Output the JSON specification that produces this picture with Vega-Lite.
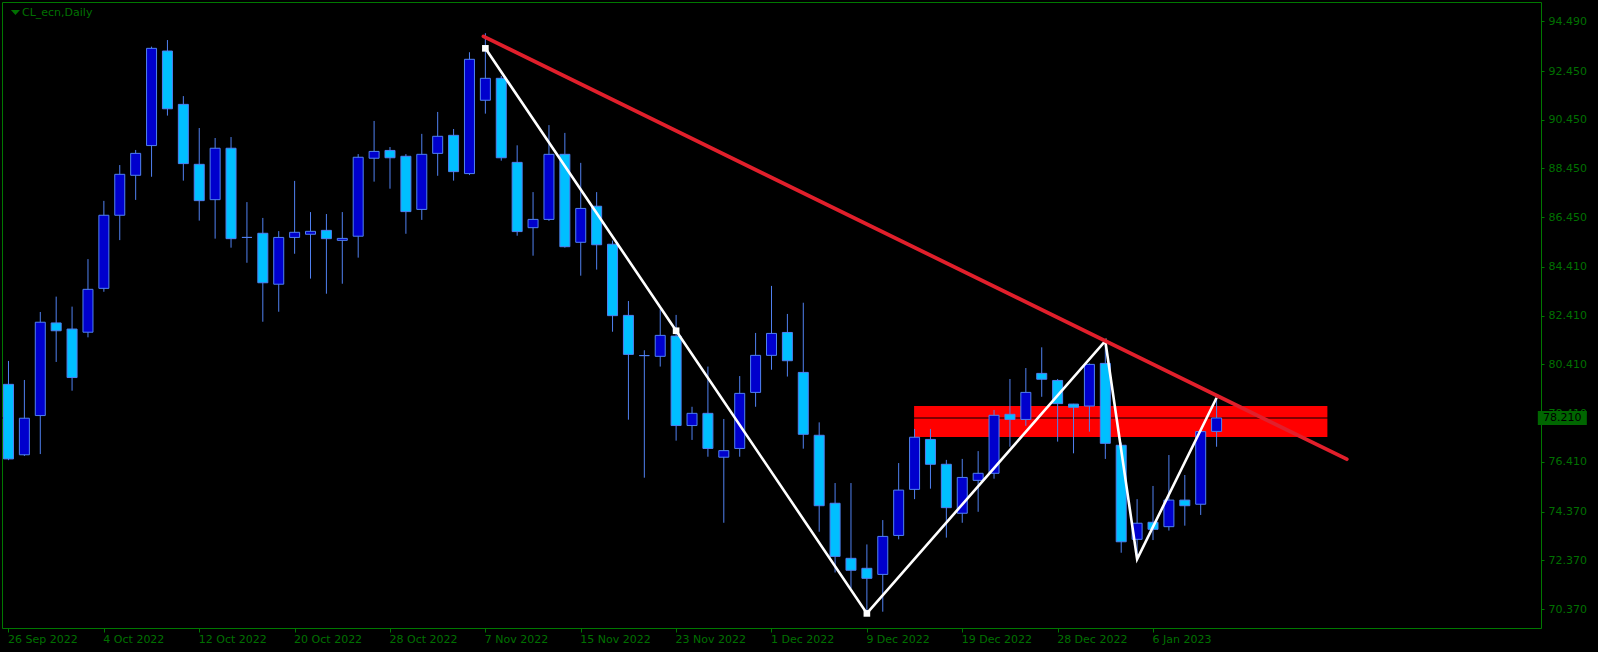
{
  "$schema": "https://vega.github.io/schema/vega-lite/v6.json",
  "width": 1539,
  "height": 626,
  "autosize": {"type": "none"},
  "padding": {"left": 2, "top": 2, "right": 57, "bottom": 24},
  "background": "#000000",
  "title": {"text": "CL_ecn,Daily", "anchor": "start", "frame": "group", "orient": "top", "offset": -16, "dx": 20, "color": "#007000", "font": "DejaVu Sans", "fontSize": 11, "fontWeight": "normal"},
  "datasets": {
    "candles": [
      {"i":0,"date":"2022-09-26","o":79.59,"h":80.55,"l":76.48,"c":76.53},
      {"i":1,"date":"2022-09-27","o":76.70,"h":79.77,"l":76.65,"c":78.20},
      {"i":2,"date":"2022-09-28","o":78.31,"h":82.56,"l":76.73,"c":82.14},
      {"i":3,"date":"2022-09-29","o":82.11,"h":83.19,"l":80.51,"c":81.79},
      {"i":4,"date":"2022-09-30","o":81.86,"h":82.78,"l":79.33,"c":79.87},
      {"i":5,"date":"2022-10-03","o":81.73,"h":84.73,"l":81.52,"c":83.49},
      {"i":6,"date":"2022-10-04","o":83.53,"h":87.12,"l":83.39,"c":86.53},
      {"i":7,"date":"2022-10-05","o":86.53,"h":88.59,"l":85.51,"c":88.21},
      {"i":8,"date":"2022-10-06","o":88.17,"h":89.21,"l":87.16,"c":89.07},
      {"i":9,"date":"2022-10-07","o":89.39,"h":93.45,"l":88.11,"c":93.38},
      {"i":10,"date":"2022-10-10","o":93.27,"h":93.72,"l":90.62,"c":90.90},
      {"i":11,"date":"2022-10-11","o":91.08,"h":91.42,"l":87.95,"c":88.65},
      {"i":12,"date":"2022-10-12","o":88.62,"h":90.11,"l":86.31,"c":87.13},
      {"i":13,"date":"2022-10-13","o":87.17,"h":89.70,"l":85.57,"c":89.28},
      {"i":14,"date":"2022-10-14","o":89.28,"h":89.74,"l":85.20,"c":85.57},
      {"i":15,"date":"2022-10-17","o":85.62,"h":87.07,"l":84.58,"c":85.62},
      {"i":16,"date":"2022-10-18","o":85.79,"h":86.42,"l":82.16,"c":83.76},
      {"i":17,"date":"2022-10-19","o":83.70,"h":85.88,"l":82.57,"c":85.62},
      {"i":18,"date":"2022-10-20","o":85.62,"h":87.94,"l":84.95,"c":85.83},
      {"i":19,"date":"2022-10-21","o":85.75,"h":86.66,"l":83.93,"c":85.87},
      {"i":20,"date":"2022-10-24","o":85.91,"h":86.58,"l":83.31,"c":85.57},
      {"i":21,"date":"2022-10-25","o":85.50,"h":86.66,"l":83.72,"c":85.58},
      {"i":22,"date":"2022-10-26","o":85.67,"h":89.04,"l":84.79,"c":88.91},
      {"i":23,"date":"2022-10-27","o":88.87,"h":90.40,"l":87.91,"c":89.15},
      {"i":24,"date":"2022-10-28","o":89.19,"h":89.33,"l":87.62,"c":88.89},
      {"i":25,"date":"2022-10-31","o":88.95,"h":89.04,"l":85.77,"c":86.68},
      {"i":26,"date":"2022-11-01","o":86.77,"h":89.87,"l":86.34,"c":89.03},
      {"i":27,"date":"2022-11-02","o":89.07,"h":90.77,"l":88.15,"c":89.77},
      {"i":28,"date":"2022-11-03","o":89.81,"h":90.07,"l":87.95,"c":88.32},
      {"i":29,"date":"2022-11-04","o":88.24,"h":93.22,"l":88.18,"c":92.93},
      {"i":30,"date":"2022-11-07","o":91.25,"h":94.00,"l":90.70,"c":92.15},
      {"i":31,"date":"2022-11-08","o":92.15,"h":92.25,"l":88.77,"c":88.89},
      {"i":32,"date":"2022-11-09","o":88.70,"h":89.40,"l":85.69,"c":85.86},
      {"i":33,"date":"2022-11-10","o":86.02,"h":87.48,"l":84.87,"c":86.36},
      {"i":34,"date":"2022-11-11","o":86.36,"h":90.23,"l":86.30,"c":89.03},
      {"i":35,"date":"2022-11-14","o":89.03,"h":89.91,"l":85.20,"c":85.24},
      {"i":36,"date":"2022-11-15","o":85.42,"h":88.68,"l":84.05,"c":86.81},
      {"i":37,"date":"2022-11-16","o":86.90,"h":87.48,"l":84.30,"c":85.32},
      {"i":38,"date":"2022-11-17","o":85.34,"h":85.49,"l":81.75,"c":82.41},
      {"i":39,"date":"2022-11-18","o":82.42,"h":83.01,"l":78.14,"c":80.82},
      {"i":40,"date":"2022-11-21","o":80.77,"h":80.99,"l":75.76,"c":80.77},
      {"i":41,"date":"2022-11-22","o":80.74,"h":82.67,"l":80.32,"c":81.60},
      {"i":42,"date":"2022-11-23","o":81.57,"h":82.44,"l":77.28,"c":77.90},
      {"i":43,"date":"2022-11-24","o":77.90,"h":78.67,"l":77.31,"c":78.40},
      {"i":44,"date":"2022-11-25","o":78.40,"h":80.32,"l":76.62,"c":76.96},
      {"i":45,"date":"2022-11-28","o":76.60,"h":78.17,"l":73.91,"c":76.87},
      {"i":46,"date":"2022-11-29","o":76.96,"h":79.93,"l":76.62,"c":79.22},
      {"i":47,"date":"2022-11-30","o":79.26,"h":81.70,"l":78.67,"c":80.78},
      {"i":48,"date":"2022-12-01","o":80.78,"h":83.63,"l":80.19,"c":81.68},
      {"i":49,"date":"2022-12-02","o":81.72,"h":82.48,"l":79.91,"c":80.56},
      {"i":50,"date":"2022-12-05","o":80.08,"h":82.94,"l":76.95,"c":77.54},
      {"i":51,"date":"2022-12-06","o":77.50,"h":78.03,"l":73.54,"c":74.61},
      {"i":52,"date":"2022-12-07","o":74.71,"h":75.54,"l":71.87,"c":72.53},
      {"i":53,"date":"2022-12-08","o":72.45,"h":75.54,"l":71.22,"c":71.96},
      {"i":54,"date":"2022-12-09","o":72.04,"h":73.02,"l":70.22,"c":71.63},
      {"i":55,"date":"2022-12-12","o":71.79,"h":74.02,"l":70.26,"c":73.35},
      {"i":56,"date":"2022-12-13","o":73.39,"h":76.36,"l":73.23,"c":75.25},
      {"i":57,"date":"2022-12-14","o":75.28,"h":77.76,"l":74.88,"c":77.42},
      {"i":58,"date":"2022-12-15","o":77.33,"h":77.76,"l":75.31,"c":76.31},
      {"i":59,"date":"2022-12-16","o":76.31,"h":76.49,"l":73.30,"c":74.53},
      {"i":60,"date":"2022-12-19","o":74.30,"h":76.53,"l":73.91,"c":75.77},
      {"i":61,"date":"2022-12-20","o":75.65,"h":76.85,"l":74.36,"c":75.94},
      {"i":62,"date":"2022-12-21","o":75.94,"h":78.54,"l":75.72,"c":78.32},
      {"i":63,"date":"2022-12-22","o":78.36,"h":79.81,"l":77.03,"c":78.15},
      {"i":64,"date":"2022-12-23","o":78.15,"h":80.26,"l":77.89,"c":79.26},
      {"i":65,"date":"2022-12-27","o":80.04,"h":81.11,"l":79.08,"c":79.80},
      {"i":66,"date":"2022-12-28","o":79.75,"h":79.81,"l":77.24,"c":78.80},
      {"i":67,"date":"2022-12-29","o":78.78,"h":78.79,"l":76.76,"c":78.65},
      {"i":68,"date":"2022-12-30","o":78.70,"h":80.45,"l":77.65,"c":80.41},
      {"i":69,"date":"2023-01-03","o":80.45,"h":81.37,"l":76.53,"c":77.17},
      {"i":70,"date":"2023-01-04","o":77.09,"h":77.20,"l":72.68,"c":73.13},
      {"i":71,"date":"2023-01-05","o":73.23,"h":74.88,"l":72.42,"c":73.89},
      {"i":72,"date":"2023-01-06","o":73.93,"h":75.42,"l":73.20,"c":73.64},
      {"i":73,"date":"2023-01-09","o":73.75,"h":76.69,"l":73.59,"c":74.84},
      {"i":74,"date":"2023-01-10","o":74.84,"h":75.87,"l":73.79,"c":74.61},
      {"i":75,"date":"2023-01-11","o":74.67,"h":77.65,"l":74.23,"c":77.65},
      {"i":76,"date":"2023-01-12","o":77.66,"h":79.04,"l":77.03,"c":78.21}
    ],
    "zigzag": [
      {"i":30,"price":93.38},
      {"i":42,"price":81.79},
      {"i":54,"price":70.19},
      {"i":69,"price":81.37},
      {"i":71,"price":72.42},
      {"i":76,"price":79.04}
    ],
    "trend": [
      {"i":29.88,"price":93.87},
      {"i":84.19,"price":76.52}
    ],
    "zone": [
      {"from":56.97,"to":82.97,"top":78.70,"bottom":77.43}
    ],
    "bid": [
      {"bid":78.21}
    ]
  },
  "layer": [
    {
      "data": {"name": "zone"},
      "mark": {"type": "rect", "color": "#FF0000", "clip": true},
      "encoding": {
        "x": {"field": "from", "type": "quantitative",
          "scale": {"domain": [-0.09375, 96.09375], "nice": false, "zero": false},
          "axis": {
            "orient": "bottom", "title": null, "grid": false, "domain": false,
            "values": [0,6,12,18,24,30,36,42,48,54,60,66,72],
            "labelExpr": "['26 Sep 2022','4 Oct 2022','12 Oct 2022','20 Oct 2022','28 Oct 2022','7 Nov 2022','15 Nov 2022','23 Nov 2022','1 Dec 2022','9 Dec 2022','19 Dec 2022','28 Dec 2022','6 Jan 2023'][round(datum.value/6)]",
            "tickSize": 4, "tickColor": "#007800", "tickWidth": 1,
            "labelColor": "#007000", "labelFont": "DejaVu Sans", "labelFontSize": 11,
            "labelAlign": "left", "labelBaseline": "top", "labelPadding": 1, "labelOffset": -1,
            "labelBound": false, "labelFlush": false, "labelOverlap": false
          }
        },
        "x2": {"field": "to"},
        "y": {"field": "top", "type": "quantitative",
          "scale": {"domain": [69.591, 95.282], "nice": false, "zero": false},
          "axis": {
            "orient": "right", "title": null, "grid": false, "domain": false,
            "values": [94.49,92.45,90.45,88.45,86.45,84.41,82.41,80.41,78.41,76.41,74.37,72.37,70.37],
            "format": ".3f",
            "tickSize": 3, "tickColor": "#007800", "tickWidth": 1,
            "labelColor": "#007000", "labelFont": "DejaVu Sans", "labelFontSize": 11,
            "labelAlign": "left", "labelBaseline": "middle", "labelPadding": 4,
            "labelBound": false, "labelFlush": false, "labelOverlap": false
          }
        },
        "y2": {"field": "bottom"}
      }
    },
    {
      "data": {"name": "bid"},
      "mark": {"type": "rule", "color": "#000000", "strokeWidth": 1.2, "clip": true},
      "encoding": {
        "y": {"field": "bid", "type": "quantitative"}
      }
    },
    {
      "data": {"name": "candles"},
      "mark": {"type": "rule", "color": "#5080F0", "strokeWidth": 1, "clip": true},
      "encoding": {
        "x": {"field": "i", "type": "quantitative"},
        "y": {"field": "l", "type": "quantitative"},
        "y2": {"field": "h"}
      }
    },
    {
      "data": {"name": "candles"},
      "mark": {"type": "bar", "width": 10, "stroke": "#5080F0", "strokeWidth": 1, "clip": true},
      "encoding": {
        "x": {"field": "i", "type": "quantitative"},
        "y": {"field": "o", "type": "quantitative"},
        "y2": {"field": "c"},
        "fill": {"condition": {"test": "datum.c > datum.o", "value": "#0000CD"}, "value": "#00BFFF"}
      }
    },
    {
      "data": {"name": "zigzag"},
      "mark": {"type": "line", "color": "#FFFFFF", "strokeWidth": 2.6, "clip": true},
      "encoding": {
        "x": {"field": "i", "type": "quantitative"},
        "y": {"field": "price", "type": "quantitative"}
      }
    },
    {
      "data": {"name": "zigzag"},
      "transform": [{"filter": "datum.i <= 54"}],
      "mark": {"type": "point", "shape": "square", "filled": true, "color": "#FFFFFF", "size": 44, "opacity": 1, "clip": true},
      "encoding": {
        "x": {"field": "i", "type": "quantitative"},
        "y": {"field": "price", "type": "quantitative"}
      }
    },
    {
      "data": {"name": "trend"},
      "mark": {"type": "line", "color": "#E11F2B", "strokeWidth": 3.8, "strokeCap": "round", "clip": true},
      "encoding": {
        "x": {"field": "i", "type": "quantitative"},
        "y": {"field": "price", "type": "quantitative"}
      }
    },
    {
      "data": {"name": "bid"},
      "mark": {"type": "point", "shape": "M-1,-0.55L1,-0.55L0,0.55Z", "filled": true, "color": "#007000", "size": 81, "opacity": 1, "clip": false},
      "encoding": {
        "x": {"datum": 0.4375, "type": "quantitative"},
        "y": {"datum": 94.85, "type": "quantitative"}
      }
    },
    {
      "data": {"name": "bid"},
      "mark": {"type": "tick", "orient": "horizontal", "size": 49, "thickness": 14, "color": "#006600", "opacity": 1, "clip": false},
      "encoding": {
        "x": {"datum": 97.75, "type": "quantitative"},
        "y": {"field": "bid", "type": "quantitative"}
      }
    },
    {
      "data": {"name": "bid"},
      "mark": {"type": "text", "color": "#000000", "font": "DejaVu Sans", "fontSize": 11, "align": "center", "baseline": "middle", "clip": false},
      "encoding": {
        "x": {"datum": 97.75, "type": "quantitative"},
        "y": {"field": "bid", "type": "quantitative"},
        "text": {"field": "bid", "type": "quantitative", "format": ".3f"}
      }
    }
  ],
  "config": {
    "view": {"stroke": "#007800", "strokeWidth": 1},
    "axis": {"grid": false}
  }
}
